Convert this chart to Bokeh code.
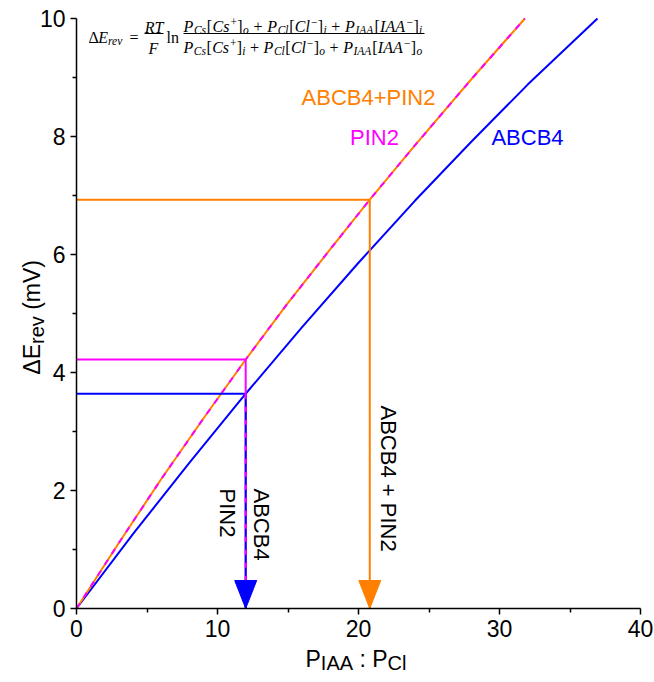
import math
from bokeh.plotting import figure
from bokeh.models import Label, FixedTicker, Range1d
from bokeh.embed import file_html
from bokeh.resources import INLINE

# ---------------- data ----------------
ratio_abcb4 = [0, 4, 8, 12, 16, 20, 24, 28, 32, 36.95]
erev_abcb4 = [0, 1.26, 2.47, 3.64, 4.77, 5.86, 6.91, 7.91, 8.88, 10.0]

ratio_pin2 = [0, 3, 6, 9, 12, 15, 18, 20.8, 24, 28, 31.8]
erev_pin2 = [0, 1.11, 2.19, 3.22, 4.22, 5.18, 6.09, 6.93, 7.85, 8.97, 10.0]

ratio_combo = [0, 3, 6, 9, 12, 15, 18, 20.8, 24, 28, 31.8]
erev_combo = [0, 1.11, 2.19, 3.22, 4.22, 5.18, 6.09, 6.93, 7.85, 8.97, 10.0]

marker_names = ["ABCB4", "PIN2", "ABCB4+PIN2"]
marker_ratio = [12.0, 12.0, 20.8]
marker_erev = [3.64, 4.22, 6.93]

x_ticks = [0, 10, 20, 30, 40]
x_minor = [5, 15, 25, 35]
y_ticks = [0, 2, 4, 6, 8, 10]
y_minor = [1, 3, 5, 7, 9]

BLUE = "#0000FF"
ORANGE = "#FF8000"
MAGENTA = "#FF00FF"

# axis-box placement (pixels on the 654 x 682 canvas)
FL, FR, FT, FB = 76, 640, 18, 608
W, H = 654, 682


def X(px):
    return (px - FL) * 40.0 / (FR - FL)


def Y(py):
    return (FB - py) * 10.0 / (FB - FT)


p = figure(width=W, height=H, output_backend="svg", toolbar_location=None,
           x_range=Range1d(X(0), X(W)), y_range=Range1d(Y(H), Y(0)),
           min_border=0, min_border_left=0, min_border_right=0,
           min_border_top=0, min_border_bottom=0)
p.outline_line_color = None
p.xgrid.visible = False
p.ygrid.visible = False
p.background_fill_color = "white"
p.border_fill_color = "white"

for ax, tk, mn, bnd in ((p.xaxis[0], x_ticks, x_minor, (0, 40)),
                        (p.yaxis[0], y_ticks, y_minor, (0, 10))):
    ax.fixed_location = 0
    ax.bounds = bnd
    ax.ticker = FixedTicker(ticks=tk, minor_ticks=mn)
    ax.major_label_overrides = {t: str(t) for t in tk}
    ax.axis_line_color = "black"
    ax.axis_line_width = 1.5
    ax.major_tick_line_width = 1.5
    ax.minor_tick_line_width = 1.5
    ax.major_tick_out = 6
    ax.major_tick_in = 0
    ax.minor_tick_out = 4
    ax.minor_tick_in = 0
    ax.major_label_text_font = "Liberation Sans"
    ax.major_label_text_font_size = "23px"
    ax.major_label_text_color = "black"
p.xaxis.major_label_standoff = 5
p.yaxis.major_label_standoff = 5

# ---------------- curves ----------------
p.line(ratio_abcb4, erev_abcb4, line_color=BLUE, line_width=2)
p.line(ratio_combo, erev_combo, line_color=ORANGE, line_width=2)
p.line(ratio_pin2, erev_pin2, line_color=MAGENTA, line_width=2, line_dash="6 7")

# ---------------- guide lines ----------------
colors = [BLUE, MAGENTA, ORANGE]
zeros = [0.0 for _ in marker_ratio]
p.segment(x0=zeros, y0=marker_erev, x1=marker_ratio, y1=marker_erev,
          line_color=colors, line_width=2)
p.segment(x0=[marker_ratio[1], marker_ratio[2]], y0=[marker_erev[1], marker_erev[2]],
          x1=[marker_ratio[1], marker_ratio[2]], y1=[0, 0],
          line_color=[MAGENTA, ORANGE], line_width=2)
p.segment(x0=[marker_ratio[0]], y0=[marker_erev[0]], x1=[marker_ratio[0]], y1=[0],
          line_color=BLUE, line_width=2)
p.segment(x0=[marker_ratio[0]], y0=[marker_erev[0]], x1=[marker_ratio[0]], y1=[0],
          line_color=MAGENTA, line_width=2, line_dash="5 8")

# arrow heads (tip at E = 0)
head_half = 11 * 40.0 / (FR - FL)
head_len = 28 * 10.0 / (FB - FT)
arrow_idx = [0, 2]
p.patches(xs=[[marker_ratio[i] - head_half, marker_ratio[i] + head_half, marker_ratio[i]] for i in arrow_idx],
          ys=[[head_len, head_len, 0] for i in arrow_idx],
          fill_color=[colors[i] for i in arrow_idx], line_color=[colors[i] for i in arrow_idx],
          line_width=1)


# ---------------- text helpers ----------------
def lab(px, py, text, size, color="black", font="Liberation Sans", style="normal",
        angle=0.0, align="left", baseline="alphabetic"):
    p.add_layout(Label(x=X(px), y=Y(py), text=text, text_font_size=f"{size}px",
                       text_color=color, text_font=font, text_font_style=style,
                       angle=angle, text_align=align, text_baseline=baseline))


ARIAL = {'A': .667, 'B': .667, 'C': .722, 'E': .667, 'I': .278, 'M': .833, 'N': .722,
         'P': .667, 'V': .667, 'l': .222, 'e': .556, 'r': .333, 'v': .5, '(': .333,
         ')': .333, ' ': .278, ':': .278, 'Δ': .667, '+': .584}
TI = {'P': .611, 'C': .667, 's': .389, 'o': .5, 'i': .278, 'l': .278, 'I': .333,
      'A': .611, 'E': .611, 'r': .389, 'e': .444, 'v': .444, 'R': .611, 'T': .556,
      'F': .611, ' ': .25}
TR = {'[': .333, ']': .333, '+': .564, '−': .564, '=': .564, ' ': .25, 'Δ': .612,
      'l': .278, 'n': .5}


def tw(s, table, size):
    return sum(table.get(c, 0.556) for c in s) * size


def font_of(tb):
    if tb is ARIAL:
        return "Liberation Sans", "normal"
    return "Liberation Serif", ("italic" if tb is TI else "normal")


def run_h(x0, base, runs, end=None):
    natural = sum(tw(t, tb, s) for t, tb, s, dy in runs)
    k = 1.0 if end is None else (end - x0) / natural
    x = x0
    for t, tb, s, dy in runs:
        font, style = font_of(tb)
        lead = len(t) - len(t.lstrip())
        lab(x + tw(t[:lead], tb, s) * k, base + dy, t.strip(), s, font=font, style=style)
        x += tw(t, tb, s) * k


# ---------------- equation ----------------
EF, ES = 16, 11.5
run_h(88, 37, [("Δ", TR, EF, 0), ("E", TI, EF, 0), ("rev", TI, ES, 3)])
lab(129, 37, "=", EF, font="Liberation Serif")
lab(153.5, 27, "RT", EF, font="Liberation Serif", style="italic", align="center")
lab(153, 48, "F", EF, font="Liberation Serif", style="italic", align="center")
lab(166, 37, "ln", EF, font="Liberation Serif")


def frac_runs(a, b, c):
    return [("P", TI, EF, 0), ("Cs", TI, ES, 3), ("[", TR, EF, 0), ("Cs", TI, EF, 0),
            ("+", TR, ES, -5), ("]", TR, EF, 0), (a, TI, ES, 3), (" + ", TR, EF, 0),
            ("P", TI, EF, 0), ("Cl", TI, ES, 3), ("[", TR, EF, 0), ("Cl", TI, EF, 0),
            ("−", TR, ES, -5), ("]", TR, EF, 0), (b, TI, ES, 3), (" + ", TR, EF, 0),
            ("P", TI, EF, 0), ("IAA", TI, ES, 3), ("[", TR, EF, 0), ("IAA", TI, EF, 0),
            ("−", TR, ES, -5), ("]", TR, EF, 0), (c, TI, ES, 3)]


run_h(183, 26, frac_runs("o", "i", "i"), end=422)
run_h(183, 47, frac_runs("i", "o", "o"), end=422)
p.segment(x0=[X(144), X(183)], y0=[Y(33), Y(33)], x1=[X(163), X(424)], y1=[Y(33), Y(33)],
          line_color="black", line_width=1)

# ---------------- series labels ----------------
lab(368, 97, "ABCB4+PIN2", 22, color=ORANGE, align="center", baseline="middle")
lab(374, 137, "PIN2", 22, color=MAGENTA, align="center", baseline="middle")
lab(527, 137, "ABCB4", 22, color=BLUE, align="center", baseline="middle")

lab(261, 488, "ABCB4", 22, angle=-math.pi / 2, align="left", baseline="middle")
lab(227, 488, "PIN2", 22, angle=-math.pi / 2, align="left", baseline="middle")
lab(388, 405, "ABCB4 + PIN2", 22, angle=-math.pi / 2, align="left", baseline="middle")

# ---------------- axis titles ----------------
run_h(305, 658, [("P", ARIAL, 23, 0), ("IAA", ARIAL, 20, 4), (" : ", ARIAL, 23, 0),
                 ("P", ARIAL, 23, 0), ("Cl", ARIAL, 20, 4)])

yl_runs = [("ΔE", 23, 0), ("rev", 20, 5), (" (mV)", 23, 0)]
total = sum(tw(t, ARIAL, s) for t, s, d in yl_runs)
pos = 320 + total / 2
for t, s, d in yl_runs:
    lead = len(t) - len(t.lstrip())
    lab(31 + d, pos - tw(t[:lead], ARIAL, s), t.strip(), s, angle=math.pi / 2)
    pos -= tw(t, ARIAL, s)

open("out.html", "w").write(file_html(p, INLINE))
